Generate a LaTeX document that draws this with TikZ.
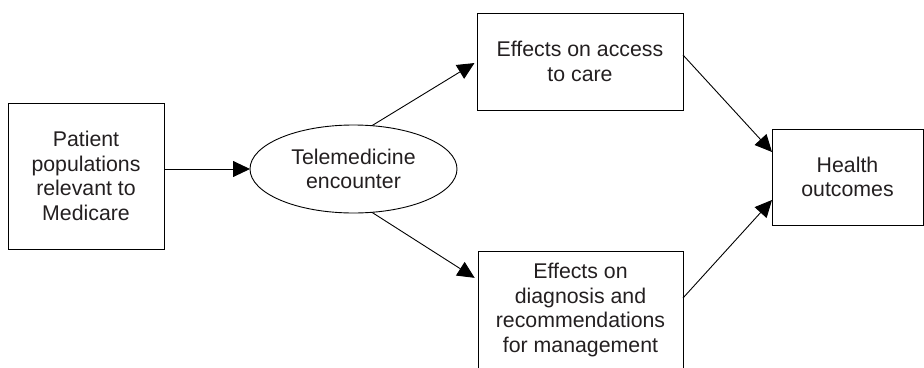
\documentclass[tikz,border=0pt]{standalone}
\usepackage{fontspec}
\setmainfont{Liberation Sans}
\usetikzlibrary{arrows.meta,shapes.geometric}
\definecolor{txt}{HTML}{231F20}
\begin{document}
\begin{tikzpicture}[x=1pt,y=-1pt,
  every node/.style={inner sep=0pt,outer sep=0pt,text=txt,align=center,
    font=\fontsize{21.3}{24.6}\selectfont},
  box/.style={draw=black,line width=0.9pt,rectangle},
  oval/.style={draw=black,line width=0.9pt,ellipse},
  conn/.style={line width=0.9pt,-{Triangle[length=17pt,width=16pt]}}]
\useasboundingbox (0,0) rectangle (924,367);
\node[box,minimum width=156pt,minimum height=146pt] (pat) at (86,176)
  {Patient\\populations\\relevant to\\Medicare};
\node[oval,minimum width=207pt,minimum height=88pt] (ell) at (353.5,169)
  {Telemedicine\\encounter};
\node[box,minimum width=206pt,minimum height=97pt] (top) at (580,61.5)
  {Effects on access\\to care};
\node[box,minimum width=205pt,minimum height=118pt] (bot) at (580.5,310)
  {Effects on\\diagnosis and\\recommendations\\for management};
\node[box,minimum width=151pt,minimum height=96pt] (hl) at (847.5,177)
  {Health\\outcomes};
\draw[conn] (pat.east |- ell.west) -- (ell.west);
\draw[conn,shorten >=3pt] (ell.67) -- (top.west);
\draw[conn,shorten >=4pt] (ell.-67) -- ([yshift=-29pt]bot.north west);
\draw[conn] ([yshift=6.5pt]top.east) -- ([yshift=-23pt]hl.north west);
\draw[conn] ([yshift=12pt]bot.east) -- ([yshift=25pt]hl.south west);
\end{tikzpicture}
\end{document}
